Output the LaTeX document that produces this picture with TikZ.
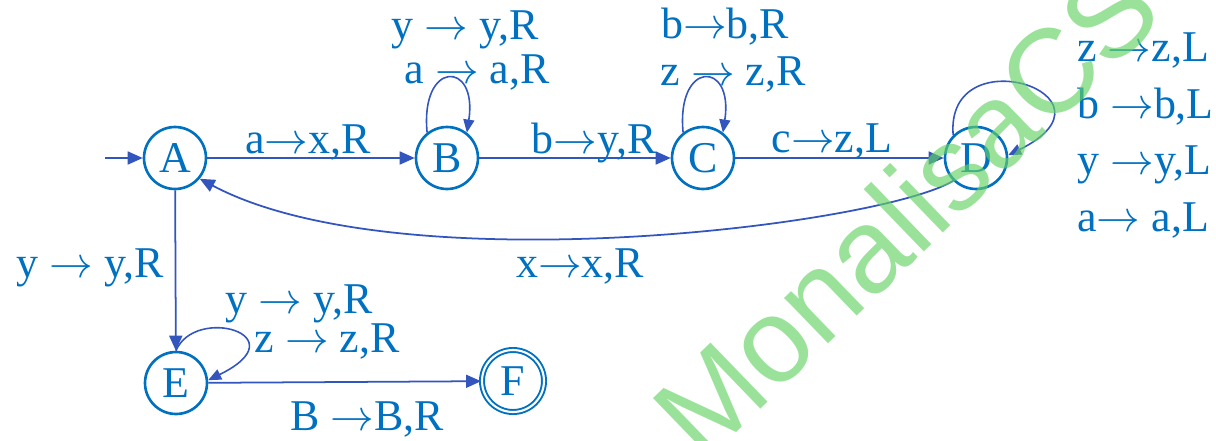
\documentclass[tikz,border=0pt]{standalone}
\usepackage{fontspec}
\setmainfont{Liberation Serif}
\newfontfamily\wmfont{Liberation Sans}
\usetikzlibrary{arrows.meta}
\definecolor{nodeblue}{RGB}{0,112,192}
\definecolor{lineblue}{RGB}{50,85,190}
\definecolor{wmgreen}{RGB}{100,210,100}
\newcommand{\lblfont}{\fontsize{25}{30}\selectfont}
\newcommand{\rarr}{$\rightarrow$}
\begin{document}
\begin{tikzpicture}[x=0.02cm, y=-0.02cm,
  state/.style={circle, draw=nodeblue, line width=1.5pt, minimum size=1.24cm, inner sep=0pt, text=nodeblue, font=\lblfont},
  accepting/.style={line width=1.1pt, double=white, double distance=1.2pt},
  arr/.style={draw=lineblue, line width=1pt, -{Triangle[length=0.3cm,width=0.26cm]}},
  looparr/.style={draw=lineblue, line width=0.9pt, -{Triangle[length=0.26cm,width=0.22cm]}},
  lab/.style={anchor=base, inner sep=0pt, text=nodeblue, font=\lblfont},
  labw/.style={anchor=base west, inner sep=0pt, text=nodeblue, font=\lblfont},
  wm/.style={anchor=base west, inner sep=0pt, rotate=44, text=wmgreen, text opacity=0.65, font=\wmfont\fontsize{68}{80}\selectfont}]
\useasboundingbox (0,0) rectangle (1216,440);
\clip (0,0) rectangle (1216,440);

% states
\node[state] (A) at (175,158) {A};
\node[state] (B) at (447,158) {B};
\node[state] (C) at (703,158) {C};
\node[state] (D) at (976,158) {D};
\node[state] (E) at (176,383) {E};
\node[state, accepting] (F) at (513,381) {F};
\coordinate (start) at (105,158);

% transitions
\draw[arr] (start) -- (A);
\draw[arr] (A) -- (B);
\draw[arr] (B) -- (C);
\draw[arr] (C) -- (D);
\draw[arr] (D.-135) .. controls (880,225) and (400,285) .. (A.-40);
\draw[arr] (A) -- (E);
\draw[arr] (E) -- (F);
\draw[looparr] (B.128) .. controls (420,60) and (478,60) .. (B.52);
\draw[looparr] (C.128) .. controls (676,60) and (734,60) .. (C.52);
\draw[looparr] (D.135) .. controls (945,35) and (1130,95) .. (D.5);
\draw[looparr] (E.90) .. controls (195,305) and (300,335) .. (E.5);

% labels
\node[lab] (lab) at (308,153) {a\rarr x,R};
\node[lab] (lbc) at (594,153) {b\rarr y,R};
\node[lab] (lcd) at (832,152) {c\rarr z,L};
\node[lab] (lda) at (580,277) {x\rarr x,R};
\node[lab] (lae) at (90,277) {y \rarr{} y,R};
\node[lab] (lb1) at (465,39) {y \rarr{} y,R};
\node[lab] (lb2) at (477,83) {a \rarr{} a,R};
\node[lab] (lc1) at (725,38) {b\rarr b,R};
\node[lab] (lc2) at (733,85) {z \rarr{} z,R};
\node[labw] (ld1) at (1077,61) {z \rarr z,L};
\node[labw] (ld2) at (1077,118) {b \rarr b,L};
\node[labw] (ld3) at (1077,174) {y \rarr y,L};
\node[labw] (ld4) at (1077,231) {a\rarr{} a,L};
\node[lab] (le1) at (299,313) {y \rarr{} y,R};
\node[lab] (le2) at (327,352) {z \rarr{} z,R};
\node[lab] (lef) at (367,430) {B \rarr B,R};

% watermark
\node[wm] (wmark) at (703,465) {MonalisaCS};
\end{tikzpicture}
\end{document}
